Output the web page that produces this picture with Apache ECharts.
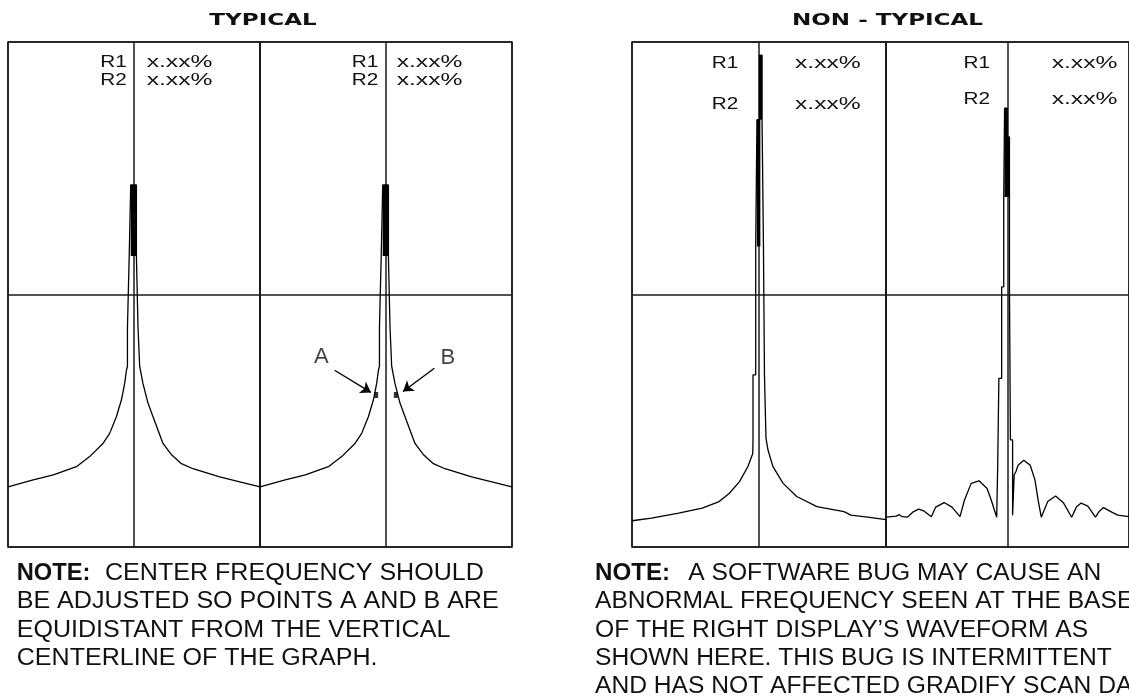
<!DOCTYPE html>
<html><head><meta charset="utf-8">
<script src="https://cdn.jsdelivr.net/npm/echarts@6/dist/echarts.min.js"></script>
<style>html,body{margin:0;padding:0;background:#fff}#c{width:1129px;height:698px}</style>
</head><body><div id="c"></div>
<script>
// ---- data (x = offset from display centreline in divisions, y = amplitude %) ----
const panelTitles = ['TYPICAL', 'NON - TYPICAL'];
const readoutNames = ['R1', 'R2'];
const readoutValue = 'x.xx%';

const typicalTrace = [
  [-1.0,11.9],[-0.80,13.3],[-0.64,14.3],[-0.457,15.9],[-0.352,17.9],[-0.246,20.5],[-0.193,22.5],
  [-0.140,25.8],[-0.100,29.1],[-0.074,32.4],[-0.060,35.0],[-0.052,35.8],[-0.052,43.4],[-0.038,43.4],
  [-0.038,57.6],[-0.026,57.6],[-0.026,71.7],[0.019,71.7],[0.019,57.6],[0.032,57.6],[0.032,43.4],
  [0.045,43.4],[0.045,35.8],[0.071,32.4],[0.111,28.5],[0.151,25.8],[0.230,20.5],[0.300,18.2],
  [0.376,16.5],[0.468,15.5],[0.680,13.9],[1.0,11.9]
];
const typicalCore = [[-0.004,57.6],[-0.004,71.7]];

const nonTypicalLeftTrace = [
  [-1.0,5.2],[-0.846,5.7],[-0.633,6.7],[-0.447,7.7],[-0.314,9.0],[-0.235,10.6],[-0.155,12.9],
  [-0.088,15.9],[-0.049,18.5],[-0.047,21.5],[-0.047,34.1],[-0.026,34.1],[-0.026,59.5],[-0.016,59.5],
  [-0.016,84.6],[0.004,84.6],[0.004,97.4],[0.024,97.4],[0.024,84.6],[0.035,84.6],[0.035,59.5],
  [0.043,59.5],[0.043,34.1],[0.055,34.1],[0.055,21.5],[0.071,19.2],[0.110,15.9],[0.19,12.6],
  [0.297,10.0],[0.456,8.0],[0.669,7.0],[0.724,6.3],[0.856,5.9],[1.0,5.4]
];
const nonTypicalLeftCoreLow = [[-0.003,59.5],[-0.003,84.6]];
const nonTypicalLeftCoreTop = [[0.013,84.6],[0.013,97.4]];

const nonTypicalRightTrace = [
  [-1.0,5.9],[-0.916,6.1],[-0.890,6.4],[-0.866,6.0],[-0.824,5.9],[-0.780,6.9],[-0.732,7.5],
  [-0.685,7.1],[-0.627,6.0],[-0.591,7.9],[-0.522,8.8],[-0.457,7.9],[-0.391,6.0],[-0.354,9.3],
  [-0.299,12.6],[-0.234,13.1],[-0.168,11.6],[-0.134,9.3],[-0.089,5.9],[-0.081,5.9],[-0.081,15.6],
  [-0.071,15.6],[-0.071,33.4],[-0.048,33.4],[-0.048,51.5],[-0.031,51.5],[-0.031,69.3],[-0.024,69.3],
  [-0.024,86.9],[-0.002,86.9],[-0.002,81.2],[0.016,81.2],[0.016,51.5],[0.024,51.5],[0.024,21.2],
  [0.042,21.2],[0.042,6.3],[0.055,6.3],[0.055,14.3],[0.069,14.9],[0.087,16.2],[0.134,17.2],
  [0.187,16.2],[0.226,13.3],[0.252,9.3],[0.278,5.9],[0.331,9.0],[0.396,10.1],[0.462,8.7],
  [0.528,5.9],[0.567,7.9],[0.606,8.7],[0.661,8.1],[0.724,5.9],[0.756,7.1],[0.790,7.8],
  [0.858,6.9],[0.908,6.3],[1.0,6.0]
];
const nonTypicalRightCoreA = [[-0.013,69.3],[-0.013,86.9]];
const nonTypicalRightCoreB = [[0.006,69.3],[0.006,81.2]];

const markerPoints = [[-0.078,30.1],[0.078,30.1]];
const markerLabels = [{name:'A', value:[-0.514,37.7]},{name:'B', value:[0.49,37.4]}];
const markerArrows = [
  [[-0.408,35.0],[-0.12,30.6]],
  [[0.384,35.4],[0.135,30.8]]
];

const noteLeft = ['CENTER FREQUENCY SHOULD','BE ADJUSTED SO POINTS A AND B ARE','EQUIDISTANT FROM THE VERTICAL','CENTERLINE OF THE GRAPH.'];
const noteRight = ['A SOFTWARE BUG MAY CAUSE AN','ABNORMAL FREQUENCY SEEN AT THE BASE','OF THE RIGHT DISPLAY\u2019S WAVEFORM AS','SHOWN HERE. THIS BUG IS INTERMITTENT','AND HAS NOT AFFECTED GRADIFY SCAN DATA'];

// ---- layout / style ----
const INK = '#111';
const grids = [
  {left:8, top:42, width:252, height:505},
  {left:260, top:42, width:252, height:505},
  {left:632, top:42, width:254, height:505},
  {left:886, top:42, width:254, height:505}
];
const gridLine = {color:'#1a1a1a', width:1.5};

function trace(data, g, w) {
  return {type:'line', xAxisIndex:g, yAxisIndex:g, data:data, showSymbol:false, symbol:'none',
    lineStyle:{color:'#000', width:w}, silent:true, z:3};
}
function txt(text, x, y, font, align, sx) {
  return {type:'text', x:x, y:y, scaleX:sx || 1, silent:true,
    style:{text:text, font:font, fill:INK, align:align, verticalAlign:'middle',
      textAlign:align, textVerticalAlign:'middle'}};
}

const series = [
  trace(typicalTrace, 0, 1.3), trace(typicalCore, 0, 5.5),
  trace(typicalTrace, 1, 1.3), trace(typicalCore, 1, 5.5),
  trace(nonTypicalLeftTrace, 2, 1.3), trace(nonTypicalLeftCoreLow, 2, 3.5), trace(nonTypicalLeftCoreTop, 2, 3),
  trace(nonTypicalRightTrace, 3, 1.3), trace(nonTypicalRightCoreA, 3, 3), trace(nonTypicalRightCoreB, 3, 3),
  {type:'scatter', xAxisIndex:1, yAxisIndex:1, data:markerPoints, symbol:'rect', symbolSize:[4,6],
    itemStyle:{color:'#000'}, silent:true, z:4},
  {type:'scatter', xAxisIndex:1, yAxisIndex:1, data:markerLabels, symbolSize:0, silent:true,
    label:{show:true, position:'inside', formatter:'{b}', color:INK, fontSize:22, fontFamily:'Liberation Sans'}},
  {type:'lines', coordinateSystem:'cartesian2d', xAxisIndex:1, yAxisIndex:1, silent:true,
    data:markerArrows.map(c => ({coords:c})), symbol:['none','arrow'], symbolSize:10,
    lineStyle:{color:'#000', width:1.4, opacity:1}}
];

const graphic = [];
graphic.push(txt(panelTitles[0], 263, 21, 'bold 16px "DejaVu Sans"', 'center', 1.44));
graphic.push(txt(panelTitles[1], 887.5, 21, 'bold 16px "DejaVu Sans"', 'center', 1.44));
const rf = '17px "Liberation Sans"';
const readouts = [
  {nx:126.7, vx:146.7, ys:[62.5,80]},
  {nx:378.3, vx:396.7, ys:[62.5,80]},
  {nx:738.3, vx:795, ys:[63.3,104]},
  {nx:990, vx:1051.7, ys:[63,99]}
];
readouts.forEach(r => {
  readoutNames.forEach((n, i) => {
    graphic.push(txt(n, r.nx, r.ys[i], rf, 'right', 1.22));
    graphic.push(txt(readoutValue, r.vx, r.ys[i], rf, 'left', 1.45));
  });
});
const nf = '23px "Liberation Sans"', bf = 'bold 23px "Liberation Sans"';
const lineY = [574, 602, 630.5, 659, 687];
graphic.push(txt('NOTE:', 16.7, lineY[0], bf, 'left', 1.03));
graphic.push(txt(noteLeft[0], 105, lineY[0], nf, 'left', 1.09));
for (let i = 1; i < noteLeft.length; i++) graphic.push(txt(noteLeft[i], 16.7, lineY[i], nf, 'left', 1.09));
graphic.push(txt('NOTE:', 595, lineY[0], bf, 'left', 1.05));
graphic.push(txt(noteRight[0], 688.3, lineY[0], nf, 'left', 1.07));
for (let i = 1; i < noteRight.length; i++) graphic.push(txt(noteRight[i], 595, lineY[i], nf, 'left', 1.07));

const option = {
  backgroundColor:'#fff',
  animation:false,
  grid: grids.map(g => Object.assign({show:true, borderColor:'#1a1a1a', borderWidth:1.5, backgroundColor:'transparent'}, g)),
  xAxis: grids.map((g, i) => ({gridIndex:i, type:'value', min:-1, max:1, interval:1,
    axisLine:{show:false}, axisTick:{show:false}, axisLabel:{show:false},
    splitLine:{show:true, lineStyle:gridLine}})),
  yAxis: grids.map((g, i) => ({gridIndex:i, type:'value', min:0, max:100, interval:50,
    axisLine:{show:false}, axisTick:{show:false}, axisLabel:{show:false},
    splitLine:{show:true, lineStyle:gridLine}})),
  series: series,
  graphic: graphic
};
const chart = echarts.init(document.getElementById('c'), null, {renderer:'canvas'});
chart.setOption(option);
</script></body></html>
